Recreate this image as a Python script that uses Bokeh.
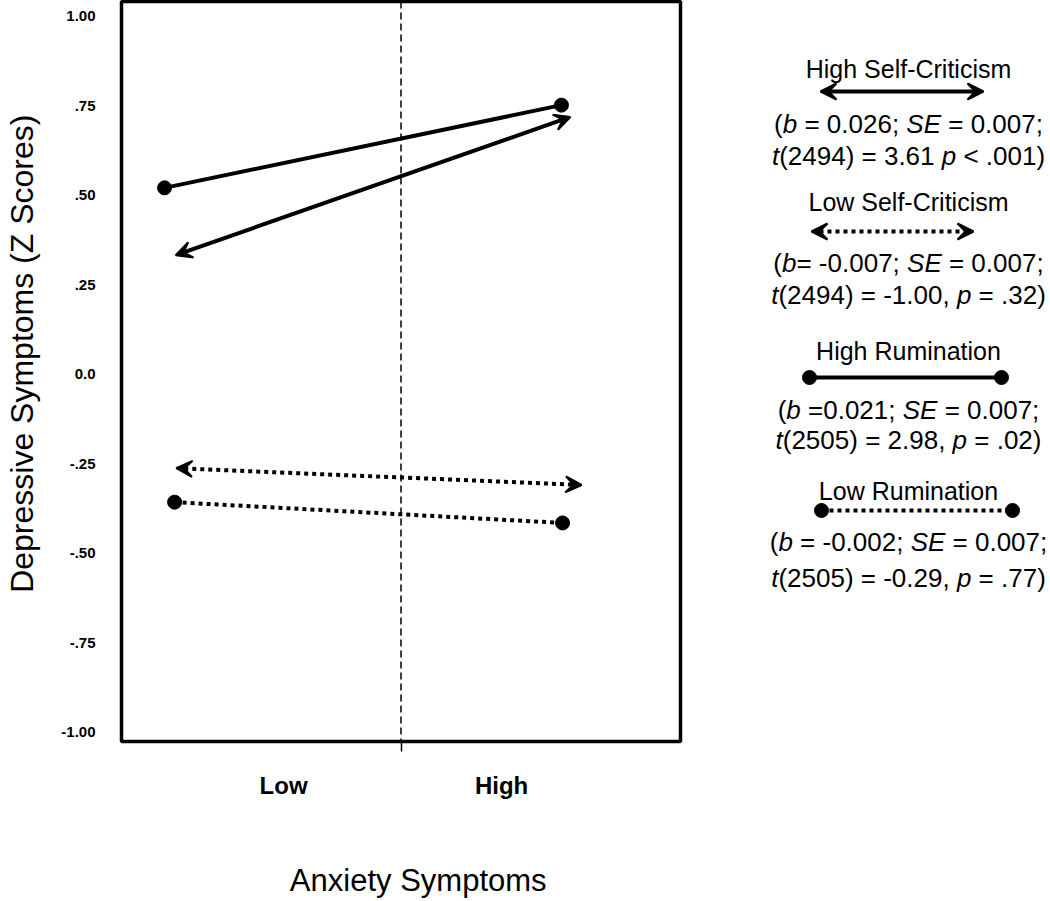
from bokeh.plotting import figure
from bokeh.models import Range1d, FixedTicker, Span, Arrow, VeeHead
from bokeh.layouts import row
from bokeh.embed import file_html
from bokeh.resources import INLINE
from bokeh.core.properties import value

# ---------------- data ----------------
x_ticks = [2.9, 6.8]
x_tick_labels = ["Low", "High"]
x_divider = 5.0
y_ticks = [-1.0, -0.75, -0.5, -0.25, 0.0, 0.25, 0.5, 0.75, 1.0]
y_tick_labels = ["-1.00", "-.75", "-.50", "-.25", "0.0", ".25", ".50", ".75", "1.00"]

high_rum_x = [0.77, 7.87]
high_rum_y = [0.520, 0.751]
low_rum_x = [0.95, 7.89]
low_rum_y = [-0.358, -0.416]
high_sc_x = [0.97, 8.03]
high_sc_y = [0.332, 0.718]
low_sc_x = [0.98, 8.23]
low_sc_y = [-0.263, -0.310]

x_title = "Anxiety Symptoms"
y_title = "Depressive Symptoms (Z Scores)"

legend_titles = ["High Self-Criticism", "Low Self-Criticism", "High Rumination", "Low Rumination"]
legend_stats = [
    ["(*b* = 0.026; *SE* = 0.007;", "*t*(2494) = 3.61 *p* < .001)"],
    ["(*b*= -0.007; *SE* = 0.007;", "*t*(2494) = -1.00, *p* = .32)"],
    ["(*b* =0.021; *SE* = 0.007;", "*t*(2505) = 2.98, *p* = .02)"],
    ["(*b* = -0.002; *SE* = 0.007;", "*t*(2505) = -0.29, *p* = .77)"],
]

FONT = "Liberation Sans"
NBSP = "\u00a0"

# ---------------- layout constants ----------------
TOTAL_H = 900
TOP_B = 1
FRAME_H = 740
BOT_B = TOTAL_H - TOP_B - FRAME_H
LEFT_B = 121
RIGHT_B = 3
MAIN_W = 683
TOTAL_W = 1048
FRAME_TOP = TOP_B
FRAME_BOT = TOP_B + FRAME_H

# ---------------- main plot ----------------
p = figure(width=MAIN_W, height=TOTAL_H, x_range=Range1d(0, 10), y_range=Range1d(-1.0265, 1.0405),
           output_backend="svg", toolbar_location=None,
           min_border_left=LEFT_B, min_border_right=RIGHT_B, min_border_top=TOP_B, min_border_bottom=BOT_B)
p.grid.visible = False
p.outline_line_color = "black"
p.outline_line_width = 3.5
p.outline_line_alpha = 1.0

xa = p.xaxis[0]
xa.ticker = FixedTicker(ticks=x_ticks, minor_ticks=[x_divider])
xa.major_label_overrides = {t: l for t, l in zip(x_ticks, x_tick_labels)}
xa.axis_line_color = None
xa.major_tick_out = 0
xa.major_tick_in = 0
xa.minor_tick_in = 0
xa.minor_tick_out = 10
xa.minor_tick_line_width = 1.5
xa.minor_tick_line_color = "black"
xa.major_label_text_font = FONT
xa.major_label_text_font_style = "bold"
xa.major_label_text_font_size = "24px"
xa.major_label_text_color = "black"
xa.major_label_standoff = 20
# leading no-break spaces nudge the centred title slightly right, as in the original
xa.axis_label = NBSP * 4 + x_title
xa.axis_label_text_font = FONT
xa.axis_label_text_font_style = "normal"
xa.axis_label_text_font_size = "31px"
xa.axis_label_text_color = "black"
xa.axis_label_standoff = 61

ya = p.yaxis[0]
ya.ticker = FixedTicker(ticks=y_ticks, minor_ticks=[])
ya.major_label_overrides = {t: l for t, l in zip(y_ticks, y_tick_labels)}
ya.axis_line_color = None
ya.major_tick_out = 0
ya.major_tick_in = 0
ya.minor_tick_out = 0
ya.minor_tick_in = 0
ya.major_label_text_font = FONT
ya.major_label_text_font_style = "bold"
ya.major_label_text_font_size = "15px"
ya.major_label_text_color = "black"
ya.major_label_standoff = 26
ya.axis_label = NBSP * 4 + y_title
ya.axis_label_text_font = FONT
ya.axis_label_text_font_style = "normal"
ya.axis_label_text_font_size = "32px"
ya.axis_label_text_color = "black"
ya.axis_label_standoff = 18

p.add_layout(Span(location=x_divider, dimension="height", line_color="black",
                  line_width=1.5, line_dash="7 4"))

# High rumination: solid with dots
p.line(high_rum_x, high_rum_y, line_color="black", line_width=4)
p.scatter(high_rum_x, high_rum_y, size=14, color="black")
# Low rumination: dotted with dots
p.line(low_rum_x, low_rum_y, line_color="black", line_width=4, line_dash="4 4")
p.scatter(low_rum_x, low_rum_y, size=14, color="black")


def vee():
    return VeeHead(size=16, fill_color="black", fill_alpha=1.0, line_color="black", line_width=2)


p.add_layout(Arrow(start=vee(), end=vee(), x_start=high_sc_x[0], y_start=high_sc_y[0],
                   x_end=high_sc_x[1], y_end=high_sc_y[1], line_width=4, line_color="black"))
p.add_layout(Arrow(start=vee(), end=vee(), x_start=low_sc_x[0], y_start=low_sc_y[0],
                   x_end=low_sc_x[1], y_end=low_sc_y[1], line_width=4, line_color="black",
                   line_dash="4 4"))

# ---------------- legend panel ----------------
# The row aligns this panel's frame with the main frame, so its data units are page pixels.
LX0 = MAIN_W
LX1 = TOTAL_W
leg = figure(width=LX1 - LX0, height=TOTAL_H, x_range=Range1d(LX0, LX1),
             y_range=Range1d(FRAME_BOT, FRAME_TOP),
             output_backend="svg", toolbar_location=None,
             min_border_left=0, min_border_right=0, min_border_top=TOP_B, min_border_bottom=BOT_B,
             x_axis_location=None, y_axis_location=None)
leg.grid.visible = False
leg.outline_line_color = None

W = {' ': 278, '(': 333, ')': 333, 'b': 556, '=': 584, '.': 278, ';': 278, 'S': 667, 'E': 667,
     't': 278, 'p': 556, '<': 584, ',': 278, '-': 333}
for d in "0123456789":
    W[d] = 556


def tw(s, fs):
    return sum(W.get(c, 556) for c in s) * fs / 1000.0


CX = 908
title_y = [68, 201, 350, 490]
glyph_y = [91, 231, 377, 510]
stat_y = [[123, 155], [262, 294], [409, 439], [541, 577]]
glyph_x = [(820, 983), (811, 973), (809, 1001), (821, 1012)]
TFS = 25
SFS = 26

leg.text(x=[CX] * 4, y=title_y, text=legend_titles, text_align="center", text_baseline="middle",
         text_font=value(FONT), text_font_size=f"{TFS}px", text_color="black")

nx, ny, nt, ix, iy, it = [], [], [], [], [], []
for lines, ys in zip(legend_stats, stat_y):
    for line, yy in zip(lines, ys):
        parts = line.split("*")
        segs = [(s, i % 2 == 1) for i, s in enumerate(parts) if s]
        total = sum(tw(s, SFS) for s, _ in segs)
        x = CX - total / 2
        for s, ital in segs:
            lead = len(s) - len(s.lstrip(" "))
            xs = x + tw(" " * lead, SFS)
            if ital:
                ix.append(xs); iy.append(yy); it.append(s.strip())
            else:
                nx.append(xs); ny.append(yy); nt.append(s.strip())
            x += tw(s, SFS)

leg.text(x=nx, y=ny, text=nt, text_align="left", text_baseline="middle",
         text_font=value(FONT), text_font_size=f"{SFS}px", text_color="black")
leg.text(x=ix, y=iy, text=it, text_align="left", text_baseline="middle",
         text_font=value(FONT), text_font_size=f"{SFS}px", text_font_style="italic",
         text_color="black")

# legend keys
(a0, a1), (b0, b1), (c0, c1), (d0, d1) = glyph_x
leg.add_layout(Arrow(start=vee(), end=vee(), x_start=a0, y_start=glyph_y[0], x_end=a1, y_end=glyph_y[0],
                     line_width=4, line_color="black"))
leg.add_layout(Arrow(start=vee(), end=vee(), x_start=b0, y_start=glyph_y[1], x_end=b1, y_end=glyph_y[1],
                     line_width=4, line_color="black", line_dash="4 4"))
leg.line([c0, c1], [glyph_y[2]] * 2, line_color="black", line_width=4)
leg.scatter([c0, c1], [glyph_y[2]] * 2, size=14, color="black")
leg.line([d0, d1], [glyph_y[3]] * 2, line_color="black", line_width=4, line_dash="4 4")
leg.scatter([d0, d1], [glyph_y[3]] * 2, size=14, color="black")

layout = row(p, leg, spacing=0)
open("out.html", "w").write(file_html(layout, INLINE))
